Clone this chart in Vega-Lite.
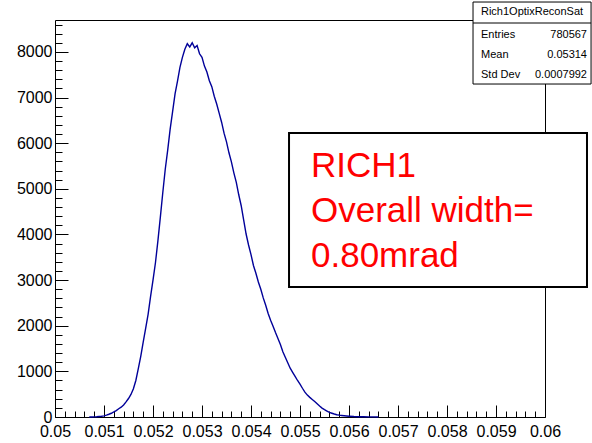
{
  "$schema": "https://vega.github.io/schema/vega-lite/v6.json",
  "width": 490,
  "height": 397,
  "autosize": {"type": "none"},
  "padding": {"left": 55, "top": 20, "right": 47, "bottom": 26},
  "background": "white",
  "config": {
    "view": {"stroke": "black", "strokeWidth": 1},
    "font": "Liberation Sans",
    "axis": {"labelFont": "Liberation Sans", "labelFontSize": 16, "labelColor": "black", "tickColor": "black", "grid": false, "domain": false, "title": null}
  },
  "datasets": {
    "hist": [
      {"x": 0.0507, "n": 0}, {"x": 0.05075, "n": 1}, {"x": 0.0508, "n": 3}, {"x": 0.05085, "n": 5},
      {"x": 0.0509, "n": 10}, {"x": 0.05095, "n": 16}, {"x": 0.051, "n": 25}, {"x": 0.05105, "n": 40},
      {"x": 0.0511, "n": 60}, {"x": 0.05115, "n": 82}, {"x": 0.0512, "n": 110}, {"x": 0.05125, "n": 140},
      {"x": 0.0513, "n": 180}, {"x": 0.05135, "n": 215}, {"x": 0.0514, "n": 265}, {"x": 0.05145, "n": 330},
      {"x": 0.0515, "n": 405}, {"x": 0.05155, "n": 495}, {"x": 0.0516, "n": 620}, {"x": 0.05165, "n": 800},
      {"x": 0.0517, "n": 1060}, {"x": 0.05175, "n": 1330}, {"x": 0.0518, "n": 1640}, {"x": 0.05185, "n": 1940},
      {"x": 0.0519, "n": 2250}, {"x": 0.05195, "n": 2640}, {"x": 0.052, "n": 3000}, {"x": 0.05205, "n": 3380},
      {"x": 0.0521, "n": 3860}, {"x": 0.05215, "n": 4380}, {"x": 0.0522, "n": 4920}, {"x": 0.05225, "n": 5430},
      {"x": 0.0523, "n": 5850}, {"x": 0.05235, "n": 6310}, {"x": 0.0524, "n": 6690}, {"x": 0.05245, "n": 7080},
      {"x": 0.0525, "n": 7360}, {"x": 0.05255, "n": 7660}, {"x": 0.0526, "n": 7880}, {"x": 0.05265, "n": 8060},
      {"x": 0.0527, "n": 8180}, {"x": 0.05275, "n": 8110}, {"x": 0.0528, "n": 8200}, {"x": 0.05285, "n": 8090},
      {"x": 0.0529, "n": 8140}, {"x": 0.05295, "n": 7960}, {"x": 0.053, "n": 7880}, {"x": 0.05305, "n": 7690},
      {"x": 0.0531, "n": 7560}, {"x": 0.05315, "n": 7370}, {"x": 0.0532, "n": 7240}, {"x": 0.05325, "n": 7030},
      {"x": 0.0533, "n": 6860}, {"x": 0.05335, "n": 6660}, {"x": 0.0534, "n": 6460}, {"x": 0.05345, "n": 6220},
      {"x": 0.0535, "n": 6030}, {"x": 0.05355, "n": 5790}, {"x": 0.0536, "n": 5590}, {"x": 0.05365, "n": 5350},
      {"x": 0.0537, "n": 5140}, {"x": 0.05375, "n": 4870}, {"x": 0.0538, "n": 4630}, {"x": 0.05385, "n": 4320},
      {"x": 0.0539, "n": 4010}, {"x": 0.05395, "n": 3770}, {"x": 0.054, "n": 3560}, {"x": 0.05405, "n": 3320},
      {"x": 0.0541, "n": 3150}, {"x": 0.05415, "n": 2960}, {"x": 0.0542, "n": 2800}, {"x": 0.05425, "n": 2610},
      {"x": 0.0543, "n": 2450}, {"x": 0.05435, "n": 2270}, {"x": 0.0544, "n": 2120}, {"x": 0.05445, "n": 1990},
      {"x": 0.0545, "n": 1850}, {"x": 0.05455, "n": 1720}, {"x": 0.0546, "n": 1590}, {"x": 0.05465, "n": 1430},
      {"x": 0.0547, "n": 1310}, {"x": 0.05475, "n": 1190}, {"x": 0.0548, "n": 1070}, {"x": 0.05485, "n": 980},
      {"x": 0.0549, "n": 890}, {"x": 0.05495, "n": 800}, {"x": 0.055, "n": 720}, {"x": 0.05505, "n": 630},
      {"x": 0.0551, "n": 545}, {"x": 0.05515, "n": 480}, {"x": 0.0552, "n": 430}, {"x": 0.05525, "n": 385},
      {"x": 0.0553, "n": 340}, {"x": 0.05535, "n": 290}, {"x": 0.0554, "n": 240}, {"x": 0.05545, "n": 195},
      {"x": 0.0555, "n": 160}, {"x": 0.05555, "n": 130}, {"x": 0.0556, "n": 100}, {"x": 0.05565, "n": 82},
      {"x": 0.0557, "n": 65}, {"x": 0.05575, "n": 50}, {"x": 0.0558, "n": 40}, {"x": 0.05585, "n": 33},
      {"x": 0.0559, "n": 27}, {"x": 0.05595, "n": 22}, {"x": 0.056, "n": 18}, {"x": 0.0561, "n": 11},
      {"x": 0.0562, "n": 7}, {"x": 0.0563, "n": 5}, {"x": 0.0564, "n": 3}, {"x": 0.0565, "n": 2},
      {"x": 0.0566, "n": 1}
    ],
    "statbox": [{"x": 0.058531, "x2": 0.06094, "y": 9094, "y2": 7297}],
    "statsep": [{"x": 0.058531, "x2": 0.06094, "y": 8634}],
    "stattitle": [{"x": 0.059735, "y": 8875, "t": "Rich1OptixReconSat"}],
    "statlabels": [
      {"x": 0.058694, "y": 8371, "t": "Entries"},
      {"x": 0.058694, "y": 7933, "t": "Mean"},
      {"x": 0.058694, "y": 7495, "t": "Std Dev"}
    ],
    "statvalues": [
      {"x": 0.060857, "y": 8371, "t": "780567"},
      {"x": 0.060857, "y": 7933, "t": "0.05314"},
      {"x": 0.060857, "y": 7495, "t": "0.0007992"}
    ],
    "notebox": [{"x": 0.054776, "x2": 0.060857, "y": 6224, "y2": 2849}],
    "notetext": [
      {"x": 0.055224, "y": 5259, "t": "RICH1"},
      {"x": 0.055224, "y": 4273, "t": "Overall width="},
      {"x": 0.055224, "y": 3287, "t": "0.80mrad"}
    ]
  },
  "layer": [
    {
      "data": {"name": "hist"},
      "mark": {"type": "line", "color": "#000099", "strokeWidth": 1.4, "interpolate": "linear"},
      "encoding": {
        "x": {"field": "x", "type": "quantitative", "scale": {"domain": [0.05, 0.06], "nice": false, "zero": false},
              "axis": {"orient": "bottom", "values": [0.05, 0.051, 0.052, 0.053, 0.054, 0.055, 0.056, 0.057, 0.058, 0.059, 0.06], "format": ".3~f", "ticks": false, "labelPadding": 6, "labelFlush": false, "labelOverlap": false}},
        "y": {"field": "n", "type": "quantitative", "scale": {"domain": [0, 8700], "nice": false, "zero": true},
              "axis": {"orient": "left", "values": [0, 1000, 2000, 3000, 4000, 5000, 6000, 7000, 8000], "format": "d", "ticks": false, "labelPadding": 3, "labelFlush": false, "labelOverlap": false}}
      }
    },
    {
      "data": {"name": "hist"},
      "mark": {"type": "point", "opacity": 0},
      "encoding": {
        "x": {"field": "x", "type": "quantitative", "scale": {"domain": [0.05, 0.06], "nice": false, "zero": false},
              "axis": {"orient": "bottom", "values": [0.05, 0.051, 0.052, 0.053, 0.054, 0.055, 0.056, 0.057, 0.058, 0.059, 0.06], "labels": false, "ticks": true, "tickSize": -12}},
        "y": {"field": "n", "type": "quantitative", "scale": {"domain": [0, 8700], "nice": false, "zero": true},
              "axis": {"orient": "left", "values": [0, 1000, 2000, 3000, 4000, 5000, 6000, 7000, 8000], "labels": false, "ticks": true, "tickSize": -13}}
      }
    },
    {
      "data": {"name": "hist"},
      "mark": {"type": "point", "opacity": 0},
      "encoding": {
        "x": {"field": "x", "type": "quantitative", "scale": {"domain": [0.05, 0.06], "nice": false, "zero": false},
              "axis": {"orient": "bottom", "values": [0.0502, 0.0504, 0.0506, 0.0508, 0.0512, 0.0514, 0.0516, 0.0518, 0.0522, 0.0524, 0.0526, 0.0528, 0.0532, 0.0534, 0.0536, 0.0538, 0.0542, 0.0544, 0.0546, 0.0548, 0.0552, 0.0554, 0.0556, 0.0558, 0.0562, 0.0564, 0.0566, 0.0568, 0.0572, 0.0574, 0.0576, 0.0578, 0.0582, 0.0584, 0.0586, 0.0588, 0.0592, 0.0594, 0.0596, 0.0598], "labels": false, "ticks": true, "tickSize": -6}},
        "y": {"field": "n", "type": "quantitative", "scale": {"domain": [0, 8700], "nice": false, "zero": true},
              "axis": {"orient": "left", "values": [200, 400, 600, 800, 1200, 1400, 1600, 1800, 2200, 2400, 2600, 2800, 3200, 3400, 3600, 3800, 4200, 4400, 4600, 4800, 5200, 5400, 5600, 5800, 6200, 6400, 6600, 6800, 7200, 7400, 7600, 7800, 8200, 8400, 8600], "labels": false, "ticks": true, "tickSize": -7}}
      }
    },
    {
      "data": {"name": "statbox"},
      "mark": {"type": "rect", "fill": "white", "stroke": "black", "strokeWidth": 1},
      "encoding": {
        "x": {"field": "x", "type": "quantitative", "scale": {"domain": [0.05, 0.06], "nice": false, "zero": false}, "axis": null},
        "x2": {"field": "x2"},
        "y": {"field": "y", "type": "quantitative", "scale": {"domain": [0, 8700], "nice": false, "zero": true}, "axis": null},
        "y2": {"field": "y2"}
      }
    },
    {
      "data": {"name": "statsep"},
      "mark": {"type": "rule", "color": "black", "strokeWidth": 1},
      "encoding": {
        "x": {"field": "x", "type": "quantitative", "scale": {"domain": [0.05, 0.06], "nice": false, "zero": false}, "axis": null},
        "x2": {"field": "x2"},
        "y": {"field": "y", "type": "quantitative", "scale": {"domain": [0, 8700], "nice": false, "zero": true}, "axis": null}
      }
    },
    {
      "data": {"name": "stattitle"},
      "mark": {"type": "text", "align": "center", "baseline": "middle", "fontSize": 11, "font": "Liberation Sans", "color": "black"},
      "encoding": {
        "x": {"field": "x", "type": "quantitative", "scale": {"domain": [0.05, 0.06], "nice": false, "zero": false}, "axis": null},
        "y": {"field": "y", "type": "quantitative", "scale": {"domain": [0, 8700], "nice": false, "zero": true}, "axis": null},
        "text": {"field": "t"}
      }
    },
    {
      "data": {"name": "statlabels"},
      "mark": {"type": "text", "align": "left", "baseline": "middle", "fontSize": 11, "font": "Liberation Sans", "color": "black"},
      "encoding": {
        "x": {"field": "x", "type": "quantitative", "scale": {"domain": [0.05, 0.06], "nice": false, "zero": false}, "axis": null},
        "y": {"field": "y", "type": "quantitative", "scale": {"domain": [0, 8700], "nice": false, "zero": true}, "axis": null},
        "text": {"field": "t"}
      }
    },
    {
      "data": {"name": "statvalues"},
      "mark": {"type": "text", "align": "right", "baseline": "middle", "fontSize": 11, "font": "Liberation Sans", "color": "black"},
      "encoding": {
        "x": {"field": "x", "type": "quantitative", "scale": {"domain": [0.05, 0.06], "nice": false, "zero": false}, "axis": null},
        "y": {"field": "y", "type": "quantitative", "scale": {"domain": [0, 8700], "nice": false, "zero": true}, "axis": null},
        "text": {"field": "t"}
      }
    },
    {
      "data": {"name": "notebox"},
      "mark": {"type": "rect", "fill": "white", "stroke": "black", "strokeWidth": 2},
      "encoding": {
        "x": {"field": "x", "type": "quantitative", "scale": {"domain": [0.05, 0.06], "nice": false, "zero": false}, "axis": null},
        "x2": {"field": "x2"},
        "y": {"field": "y", "type": "quantitative", "scale": {"domain": [0, 8700], "nice": false, "zero": true}, "axis": null},
        "y2": {"field": "y2"}
      }
    },
    {
      "data": {"name": "notetext"},
      "mark": {"type": "text", "align": "left", "baseline": "alphabetic", "fontSize": 35, "font": "Liberation Sans", "color": "#ff0000"},
      "encoding": {
        "x": {"field": "x", "type": "quantitative", "scale": {"domain": [0.05, 0.06], "nice": false, "zero": false}, "axis": null},
        "y": {"field": "y", "type": "quantitative", "scale": {"domain": [0, 8700], "nice": false, "zero": true}, "axis": null},
        "text": {"field": "t"}
      }
    }
  ],
  "resolve": {"axis": {"x": "independent", "y": "independent"}}
}
